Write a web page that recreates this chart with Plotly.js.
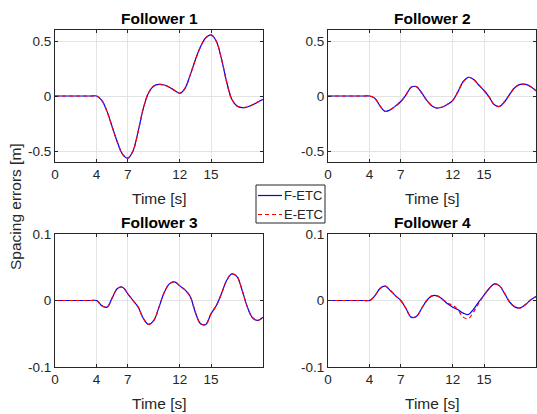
<!DOCTYPE html>
<html>
<head>
<meta charset="utf-8">
<script src="https://cdn.plot.ly/plotly-3.0.1.min.js"></script>
<style>html,body{margin:0;padding:0;background:#fff}#chart{width:537px;height:414px}</style>
</head>
<body>
<div id="chart"></div>
<script>
var time = [0,0.5,1,1.5,2,2.5,3,3.5,4,4.5,5,5.5,6,6.5,7,7.5,8,8.5,9,9.5,10,10.5,11,11.5,12,12.5,13,13.5,14,14.5,15,15.5,16,16.5,17,17.5,18,18.5,19,19.5,20];

var fetc1 = [0,0,0,0,0,0,0,0,0,-0.04,-0.14,-0.28,-0.42,-0.53,-0.565,-0.50,-0.32,-0.11,0.03,0.09,0.105,0.10,0.08,0.05,0.025,0.07,0.19,0.33,0.45,0.53,0.555,0.50,0.34,0.13,-0.03,-0.09,-0.105,-0.10,-0.08,-0.055,-0.03];
var eetc1 = [0,0,0,0,0,0,0,0,0,-0.04,-0.14,-0.28,-0.42,-0.53,-0.565,-0.50,-0.32,-0.11,0.03,0.09,0.105,0.10,0.08,0.05,0.025,0.07,0.19,0.33,0.45,0.53,0.555,0.50,0.34,0.13,-0.03,-0.09,-0.105,-0.10,-0.08,-0.055,-0.03];

var fetc2 = [0,0,0,0,0,0,0,0,0,-0.02,-0.09,-0.14,-0.125,-0.09,-0.05,0.01,0.08,0.085,0.03,-0.04,-0.09,-0.11,-0.10,-0.075,-0.04,0.04,0.13,0.17,0.15,0.10,0.05,-0.01,-0.08,-0.095,-0.05,0.02,0.08,0.105,0.105,0.085,0.048];
var eetc2 = [0,0,0,0,0,0,0,0,0,-0.02,-0.09,-0.14,-0.125,-0.09,-0.05,0.01,0.08,0.085,0.03,-0.04,-0.09,-0.11,-0.10,-0.075,-0.04,0.04,0.13,0.17,0.15,0.10,0.05,-0.01,-0.08,-0.095,-0.05,0.02,0.08,0.105,0.105,0.085,0.048];

var fetc3 = [0,0,0,0,0,0,0,0,0,-0.008,-0.010,0.004,0.018,0.020,0.010,0.000,-0.010,-0.027,-0.036,-0.030,-0.010,0.012,0.025,0.028,0.022,0.016,0.006,-0.018,-0.035,-0.036,-0.020,-0.008,0.010,0.030,0.040,0.036,0.015,-0.010,-0.026,-0.030,-0.025];
var eetc3 = [0,0,0,0,0,0,0,0,0,-0.008,-0.010,0.004,0.018,0.020,0.010,0.000,-0.010,-0.027,-0.036,-0.030,-0.010,0.012,0.025,0.028,0.022,0.016,0.006,-0.018,-0.035,-0.036,-0.020,-0.008,0.010,0.030,0.040,0.036,0.015,-0.010,-0.026,-0.030,-0.025];

var fetc4 = [0,0,0,0,0,0,0,0,0,0.007,0.018,0.0215,0.015,0.007,0.000,-0.012,-0.025,-0.024,-0.012,0.000,0.007,0.007,0.002,-0.005,-0.010,-0.014,-0.019,-0.021,-0.013,-0.002,0.008,0.018,0.025,0.022,0.010,-0.003,-0.010,-0.011,-0.006,0.001,0.006];
var eetc4 = [0,0,0,0,0,0,0,0,0,0.007,0.018,0.0215,0.015,0.007,0.000,-0.012,-0.025,-0.024,-0.012,0.000,0.007,0.007,0.002,-0.004,-0.007,-0.014,-0.025,-0.027,-0.017,-0.004,0.008,0.018,0.025,0.022,0.010,-0.003,-0.010,-0.011,-0.006,0.001,0.006];

var xTicks = [0,4,7,12,15];
var xTickText = ['0','4','7','12','15'];
var yTicksUpper = [-0.5,0,0.5];
var yTickTextUpper = ['-0.5','0','0.5'];
var yTicksLower = [-0.1,0,0.1];
var yTickTextLower = ['-0.1','0','0.1'];
var titles = ['Follower 1','Follower 2','Follower 3','Follower 4'];
var seriesNames = ['F-ETC','E-ETC'];

var W = 537, H = 414;
var FONT = 'Liberation Sans, Arial, Helvetica, sans-serif';
var TXT = '#262626';
var BLUE = '#0000ff', RED = '#ff0000';
var DASH = '4px,3px';
// pixel boxes [left, right, top, bottom]
var boxes = [[55,263,30,162],[328,536,30,162],[55,263,234,367],[328,536,234,367]];

var F = [fetc1,fetc2,fetc3,fetc4];
var E = [eetc1,eetc2,eetc3,eetc4];
var traces = [];
for (var i = 0; i < 4; i++) {
  var sx = i === 0 ? 'x' : 'x' + (i+1);
  var sy = i === 0 ? 'y' : 'y' + (i+1);
  traces.push({x: time, y: F[i], xaxis: sx, yaxis: sy, type: 'scatter', mode: 'lines',
    name: seriesNames[0], line: {color: BLUE, width: 1.2, shape: 'spline', smoothing: 1}, showlegend: false});
  traces.push({x: time, y: E[i], xaxis: sx, yaxis: sy, type: 'scatter', mode: 'lines',
    name: seriesNames[1], line: {color: RED, width: 1.2, dash: DASH, shape: 'spline', smoothing: 1}, showlegend: false});
}

var layout = {
  width: W, height: H,
  margin: {l: 0, r: 0, t: 0, b: 0},
  paper_bgcolor: '#ffffff', plot_bgcolor: '#ffffff',
  font: {family: FONT, color: TXT, size: 13.5},
  showlegend: false,
  annotations: [],
  shapes: [],
  hovermode: false
};

for (var i = 0; i < 4; i++) {
  var b = boxes[i];
  var xa = i === 0 ? 'xaxis' : 'xaxis' + (i+1);
  var ya = i === 0 ? 'yaxis' : 'yaxis' + (i+1);
  var isUpper = i < 2;
  layout[xa] = {
    domain: [b[0]/W, b[1]/W], anchor: i === 0 ? 'y' : 'y' + (i+1),
    range: [0, 20], tickmode: 'array', tickvals: xTicks, ticktext: xTickText,
    ticks: 'inside', ticklen: 3, tickcolor: TXT, showline: true, linecolor: TXT, linewidth: 1,
    mirror: 'ticks', showgrid: true, gridcolor: '#e3e3e3', gridwidth: 1, zeroline: false,
    tickfont: {family: FONT, size: 13.5, color: TXT}
  };
  layout[ya] = {
    domain: [1 - b[3]/H, 1 - b[2]/H], anchor: i === 0 ? 'x' : 'x' + (i+1),
    range: isUpper ? [-0.6, 0.6] : [-0.1, 0.1], tickmode: 'array',
    tickvals: isUpper ? yTicksUpper : yTicksLower, ticktext: isUpper ? yTickTextUpper : yTickTextLower,
    ticks: 'inside', ticklen: 3, tickcolor: TXT, showline: true, linecolor: TXT, linewidth: 1,
    mirror: 'ticks', showgrid: true, gridcolor: '#e3e3e3', gridwidth: 1, zeroline: false,
    tickfont: {family: FONT, size: 13.5, color: TXT}
  };
  layout.annotations.push({xref: 'paper', yref: 'paper', x: (b[0]+b[1])/2/W, y: 1 - (b[2]-11.5)/H,
    text: '<b>' + titles[i] + '</b>', showarrow: false, xanchor: 'center', yanchor: 'middle',
    font: {family: FONT, size: 15.5, color: '#000000'}});
  layout.annotations.push({xref: 'paper', yref: 'paper', x: (b[0]+b[1])/2/W, y: 1 - (b[3]+36)/H,
    text: 'Time [s]', showarrow: false, xanchor: 'center', yanchor: 'middle',
    font: {family: FONT, size: 15.5, color: TXT}});
}
layout.annotations.push({xref: 'paper', yref: 'paper', x: 15/W, y: 1 - 207/H,
  text: 'Spacing errors [m]', showarrow: false, textangle: -90, xanchor: 'center', yanchor: 'middle',
  font: {family: FONT, size: 15.5, color: TXT}});

// legend box (drawn in paper pixels)
var lg = {l: 256, r: 325, t: 185, b: 223};
layout.shapes.push({type: 'rect', xref: 'paper', yref: 'paper',
  x0: lg.l/W, x1: lg.r/W, y0: 1 - lg.b/H, y1: 1 - lg.t/H,
  line: {color: TXT, width: 1}, fillcolor: '#ffffff', layer: 'above'});
var rowsY = [195.5, 214.5];
var rowColors = [BLUE, RED];
var rowDash = ['solid', DASH];
for (var k = 0; k < 2; k++) {
  layout.shapes.push({type: 'line', xref: 'paper', yref: 'paper',
    x0: 258/W, x1: 282/W, y0: 1 - rowsY[k]/H, y1: 1 - rowsY[k]/H,
    line: {color: rowColors[k], width: 1.2, dash: rowDash[k]}, layer: 'above'});
  layout.annotations.push({xref: 'paper', yref: 'paper', x: 283/W, y: 1 - rowsY[k]/H,
    text: seriesNames[k], showarrow: false, xanchor: 'left', yanchor: 'middle',
    font: {family: FONT, size: 13, color: TXT}, borderpad: 0});
}

Plotly.newPlot('chart', traces, layout, {displayModeBar: false, staticPlot: true});
</script>
</body>
</html>
